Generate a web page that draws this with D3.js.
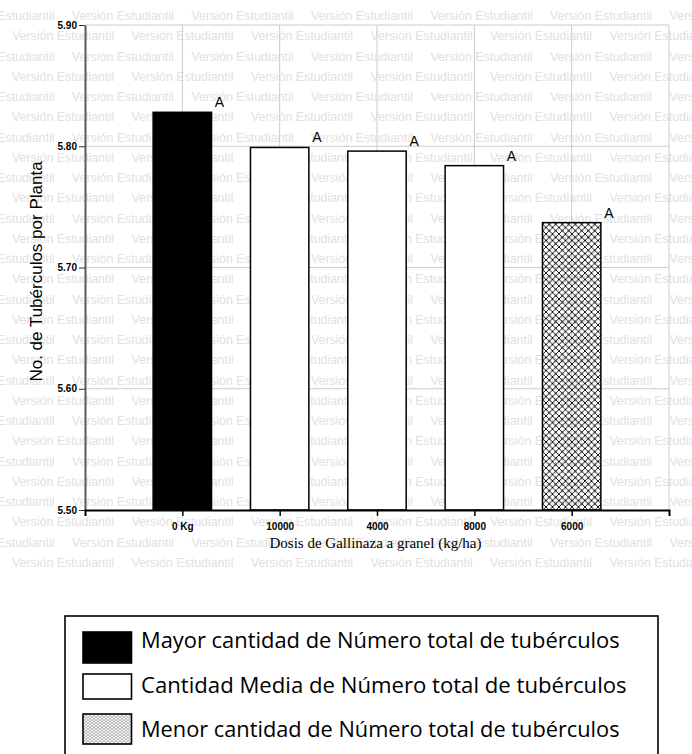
<!DOCTYPE html>
<html>
<head>
<meta charset="utf-8">
<script src="https://cdn.jsdelivr.net/npm/d3@7"></script>
<style>
  html, body { margin: 0; padding: 0; background: #fff; }
  svg { display: block; }
</style>
</head>
<body>
<div id="chart"></div>
<script>
// ---------- DATA ----------
const categories = ["0 Kg", "10000", "4000", "8000", "6000"];
const values = [5.828, 5.799, 5.796, 5.784, 5.737];
const groups = ["Mayor", "Media", "Media", "Media", "Menor"];
const letters = ["A", "A", "A", "A", "A"];
const yTicks = [5.50, 5.60, 5.70, 5.80, 5.90];
const legendLabels = [
  "Mayor cantidad de Número total de tubérculos",
  "Cantidad Media de Número total de tubérculos",
  "Menor cantidad de Número total de tubérculos"
];
const legendGroups = ["Mayor", "Media", "Menor"];
const yTitle = "No. de Tubérculos por Planta";
const xTitle = "Dosis de Gallinaza a granel (kg/ha)";
const watermark = "Versión Estudiantil";

// ---------- LAYOUT ----------
const W = 692, H = 754;
const plot = { left: 85, right: 669, top: 25, bottom: 510 };

const svg = d3.select("#chart").append("svg")
  .attr("width", W).attr("height", H)
  .attr("xmlns", "http://www.w3.org/2000/svg");

const defs = svg.append("defs");
// cross-hatch pattern for bars
const pat = defs.append("pattern").attr("id", "hatch")
  .attr("patternUnits", "userSpaceOnUse").attr("width", 6.5).attr("height", 6.5);
pat.append("path").attr("d", "M0,0L6.5,6.5M6.5,0L0,6.5")
  .attr("stroke", "#000").attr("stroke-width", 0.9).attr("fill", "none");
pat.append("circle").attr("cx", 3.25).attr("cy", 3.25).attr("r", 0.9).attr("fill", "#000");
// fine pattern for legend swatch
const pat2 = defs.append("pattern").attr("id", "hatchFine")
  .attr("patternUnits", "userSpaceOnUse").attr("width", 4).attr("height", 3);
pat2.append("rect").attr("width", 4).attr("height", 3).attr("fill", "#fff");
pat2.append("path").attr("d", "M0,0L4,3M4,0L0,3")
  .attr("stroke", "#8a8a8a").attr("stroke-width", 0.6).attr("fill", "none");

const fillFor = g => g === "Mayor" ? "#000" : (g === "Media" ? "#fff" : "url(#hatch)");

svg.append("rect").attr("width", W).attr("height", H).attr("fill", "#fff");

// ---------- WATERMARK ----------
const wm = svg.append("g").attr("font-family", "'Liberation Sans', Arial, sans-serif")
  .attr("font-size", 12.4).attr("fill", "#e1e1e1");
const period = 119.5;
for (let k = 0; k < 28; k++) {
  const yb = 20 + 20.25 * k;
  let x0 = (k % 2 === 0) ? 72 - period : 12;
  for (let x = x0; x < W; x += period) {
    wm.append("text").attr("x", x).attr("y", yb).text(watermark);
  }
}

// ---------- SCALES ----------
const x = d3.scalePoint().domain(categories).range([plot.left, plot.right]).padding(1);
const y = d3.scaleLinear().domain([5.5, 5.9]).range([plot.bottom, plot.top]);
const barW = x.step() * 0.6;

// ---------- GRID ----------
const grid = svg.append("g").attr("stroke", "#cbcbcb").attr("stroke-width", 1);
yTicks.slice(1).forEach(t => {
  grid.append("line").attr("x1", plot.left).attr("x2", plot.right)
    .attr("y1", y(t)).attr("y2", y(t));
});
categories.forEach(c => {
  grid.append("line").attr("x1", x(c)).attr("x2", x(c))
    .attr("y1", plot.top).attr("y2", plot.bottom);
});
grid.append("line").attr("x1", plot.right).attr("x2", plot.right)
  .attr("y1", plot.top).attr("y2", plot.bottom);

// ---------- BARS ----------
const data = categories.map((c, i) => ({ c, v: values[i], g: groups[i], l: letters[i] }));
svg.append("g").selectAll("rect").data(data).join("rect")
  .attr("x", d => x(d.c) - barW / 2)
  .attr("y", d => y(d.v))
  .attr("width", barW)
  .attr("height", d => y(5.5) - y(d.v))
  .attr("fill", d => fillFor(d.g))
  .attr("stroke", "#000").attr("stroke-width", 1.5);

svg.append("g").selectAll("text").data(data).join("text")
  .attr("x", d => x(d.c) + barW / 2 + 8)
  .attr("y", d => y(d.v) - 5)
  .attr("text-anchor", "middle")
  .attr("font-family", "'Liberation Sans', Arial, sans-serif")
  .attr("font-size", 14).attr("fill", "#000")
  .text(d => d.l);

// ---------- AXES ----------
const yAxis = d3.axisLeft(y).tickValues(yTicks).tickFormat(d3.format(".2f"))
  .tickSize(6).tickSizeOuter(0).tickPadding(2);
const gy = svg.append("g").attr("transform", `translate(${plot.left},0)`).call(yAxis);
gy.select(".domain").attr("stroke", "#5a5a5a").attr("stroke-width", 2);
gy.selectAll(".tick line").attr("stroke", "#333").attr("stroke-width", 1);
gy.selectAll(".tick text").attr("font-family", "'Liberation Sans', Arial, sans-serif")
  .attr("font-size", 10).attr("font-weight", "bold").attr("fill", "#000");

const xAxis = d3.axisBottom(x).tickSize(6).tickSizeOuter(6).tickPadding(7);
const gx = svg.append("g").attr("transform", `translate(0,${plot.bottom})`).call(xAxis);
gx.select(".domain").attr("stroke", "#000").attr("stroke-width", 2);
gx.selectAll(".tick line").attr("stroke", "#000").attr("stroke-width", 1.5);
gx.selectAll(".tick text").attr("font-family", "'Liberation Sans', Arial, sans-serif")
  .attr("font-size", 10).attr("font-weight", "bold").attr("fill", "#000");

// axis titles
svg.append("text")
  .attr("transform", `translate(42,${(plot.top + plot.bottom) / 2 + 4}) rotate(-90)`)
  .attr("text-anchor", "middle")
  .attr("font-family", "'Liberation Sans', Arial, sans-serif")
  .attr("font-size", 17).attr("fill", "#000")
  .text(yTitle);

svg.append("text")
  .attr("x", (plot.left + plot.right) / 2 - 1.5).attr("y", 548)
  .attr("text-anchor", "middle")
  .attr("font-family", "'Liberation Serif', 'Times New Roman', serif")
  .attr("font-size", 15).attr("fill", "#000")
  .text(xTitle);

// ---------- LEGEND ----------
const lg = svg.append("g");
lg.append("rect").attr("x", 65).attr("y", 616).attr("width", 593).attr("height", 160)
  .attr("fill", "none").attr("stroke", "#000").attr("stroke-width", 1.6);

const swatches = [
  { y: 632, h: 31 },
  { y: 674, h: 25 },
  { y: 714, h: 30 }
];
const baselines = [648, 693, 737];
legendGroups.forEach((g, i) => {
  lg.append("rect").attr("x", 83).attr("y", swatches[i].y)
    .attr("width", 48.5).attr("height", swatches[i].h)
    .attr("fill", g === "Mayor" ? "#000" : (g === "Media" ? "#fff" : "url(#hatchFine)"))
    .attr("stroke", "#000").attr("stroke-width", 1.6);
  const t = lg.append("text").attr("x", 141).attr("y", baselines[i])
    .attr("font-family", "'Open Sans', 'Noto Sans', sans-serif")
    .attr("font-size", 20).attr("fill", "#000")
    .text(legendLabels[i]);
  const target = i === 1 ? 486 : 479;
  const w = t.node().getComputedTextLength();
  if (w > 0) t.attr("font-size", 20 * target / w);
});
</script>
</body>
</html>
